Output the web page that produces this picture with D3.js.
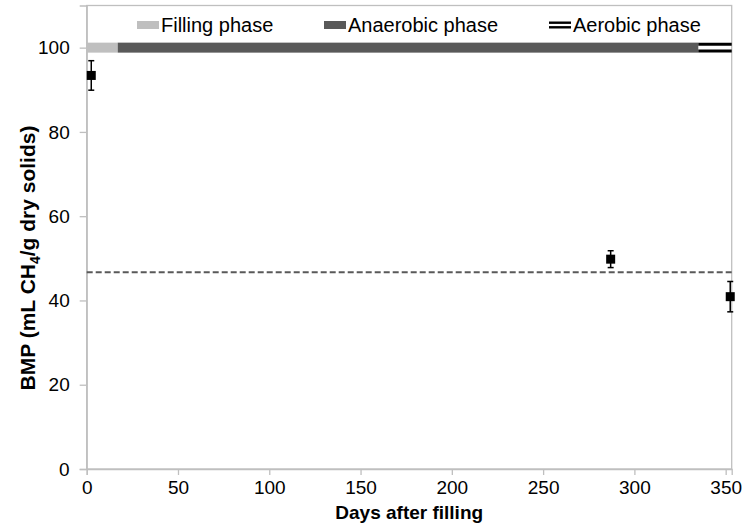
<!DOCTYPE html>
<html>
<head>
<meta charset="utf-8">
<script src="https://cdn.jsdelivr.net/npm/d3@7"></script>
<style>
  html, body { margin: 0; padding: 0; background: #fff; }
  svg { display: block; font-family: "Liberation Sans", Arial, sans-serif; }
</style>
</head>
<body>
<svg id="chart" width="744" height="531"></svg>
<script>
// Measured BMP of the waste samples
const days = [2.5, 287, 352.5];
const bmp = [93.4, 49.8, 40.9];
const bmpErr = [3.5, 2.0, 3.6];

// Mean BMP reference level (dashed line)
const meanLevel = [46.7];

// Operating phases of the cell (day ranges)
const phaseNames = ["Filling phase", "Anaerobic phase", "Aerobic phase"];
const phaseStart = [0, 17, 335];
const phaseEnd = [17, 335, 353.3];
const phaseLevel = 100;

// Axis ticks
const xTicks = [0, 50, 100, 150, 200, 250, 300, 350];
const yTicks = [0, 20, 40, 60, 80, 100];

const svg = d3.select("#chart");
const plotL = 86.7, plotR = 731.7, plotT = 5.5, plotB = 469;

const x = d3.scaleLinear().domain([0, 353.3]).range([plotL, plotR]);
const y = d3.scaleLinear().domain([0, 110]).range([plotB, plotT]);

const axisColor = "#bfbfbf";

// Plot area frame
svg.append("rect")
  .attr("x", plotL).attr("y", plotT)
  .attr("width", plotR - plotL).attr("height", plotB - plotT)
  .attr("fill", "none").attr("stroke", axisColor).attr("stroke-width", 1.3);

// X axis
const xAxis = svg.append("g")
  .attr("transform", `translate(0,${plotB})`)
  .call(d3.axisBottom(x).tickValues(xTicks).tickSize(6).tickPadding(6));
xAxis.select(".domain").attr("stroke", axisColor).attr("stroke-width", 1.3);
xAxis.selectAll(".tick line").attr("stroke", axisColor).attr("stroke-width", 1.3);
xAxis.selectAll(".tick text")
  .attr("font-size", 19).attr("fill", "#000")
  .attr("font-family", "Liberation Sans, Arial, sans-serif");

// Y axis
const yAxis = svg.append("g")
  .attr("transform", `translate(${plotL},0)`)
  .call(d3.axisLeft(y).tickValues(yTicks).tickSize(7).tickPadding(10));
yAxis.select(".domain").attr("stroke", axisColor).attr("stroke-width", 1.3);
yAxis.selectAll(".tick line").attr("stroke", axisColor).attr("stroke-width", 1.3);
yAxis.selectAll(".tick text")
  .attr("font-size", 19).attr("fill", "#000")
  .attr("font-family", "Liberation Sans, Arial, sans-serif");

// Axis titles
svg.append("text")
  .attr("x", (plotL + plotR) / 2).attr("y", 519)
  .attr("text-anchor", "middle")
  .attr("font-size", 19).attr("font-weight", "bold")
  .text("Days after filling");

const yTitle = svg.append("text")
  .attr("transform", "translate(35,258) rotate(-90)")
  .attr("text-anchor", "middle")
  .attr("font-size", 21).attr("font-weight", "bold");
yTitle.append("tspan").text("BMP (mL CH");
yTitle.append("tspan").attr("font-size", 14).attr("dy", 5).text("4");
yTitle.append("tspan").attr("dy", -5).text("/g dry solids)");

// Phase bars along the top
const barH = 10;
svg.append("rect")
  .attr("x", x(phaseStart[0])).attr("y", y(phaseLevel) - barH / 2)
  .attr("width", x(phaseEnd[0]) - x(phaseStart[0])).attr("height", barH)
  .attr("fill", "#bfbfbf");
svg.append("rect")
  .attr("x", x(phaseStart[1])).attr("y", y(phaseLevel) - barH / 2)
  .attr("width", x(phaseEnd[1]) - x(phaseStart[1])).attr("height", barH)
  .attr("fill", "#595959");
[-3.3, 3.3].forEach(off => {
  svg.append("line")
    .attr("x1", x(phaseStart[2])).attr("x2", x(phaseEnd[2]))
    .attr("y1", y(phaseLevel) + off).attr("y2", y(phaseLevel) + off)
    .attr("stroke", "#000").attr("stroke-width", 3);
});

// Legend
const legendX = [137, 324, 549];
const lg = svg.append("g");
phaseNames.forEach((name, i) => {
  const g = lg.append("g").attr("transform", `translate(${legendX[i]},25)`);
  if (i < 2) {
    g.append("rect").attr("x", 0).attr("y", -4).attr("width", 22).attr("height", 8)
      .attr("fill", i === 0 ? "#bfbfbf" : "#595959");
  } else {
    [-2.3, 2.3].forEach(off => g.append("line")
      .attr("x1", 0).attr("x2", 22).attr("y1", off).attr("y2", off)
      .attr("stroke", "#000").attr("stroke-width", 2.4));
  }
  g.append("text").attr("x", 24).attr("y", 7)
    .attr("font-size", 20).attr("fill", "#000").text(name);
});

// Mean level dashed line
svg.append("line")
  .attr("x1", plotL).attr("x2", plotR)
  .attr("y1", y(meanLevel[0])).attr("y2", y(meanLevel[0]))
  .attr("stroke", "#595959").attr("stroke-width", 2)
  .attr("stroke-dasharray", "6,3");

// Error bars and markers
const pts = days.map((d, i) => ({ d, v: bmp[i], e: bmpErr[i] }));
const pg = svg.append("g");
pts.forEach(p => {
  const cx = x(p.d);
  pg.append("line").attr("x1", cx).attr("x2", cx)
    .attr("y1", y(p.v + p.e)).attr("y2", y(p.v - p.e))
    .attr("stroke", "#000").attr("stroke-width", 1.5);
  [p.v + p.e, p.v - p.e].forEach(v => pg.append("line")
    .attr("x1", cx - 3).attr("x2", cx + 3)
    .attr("y1", y(v)).attr("y2", y(v))
    .attr("stroke", "#000").attr("stroke-width", 1.5));
  pg.append("rect").attr("x", cx - 4.5).attr("y", y(p.v) - 4.5)
    .attr("width", 9).attr("height", 9).attr("fill", "#000");
});
</script>
</body>
</html>
